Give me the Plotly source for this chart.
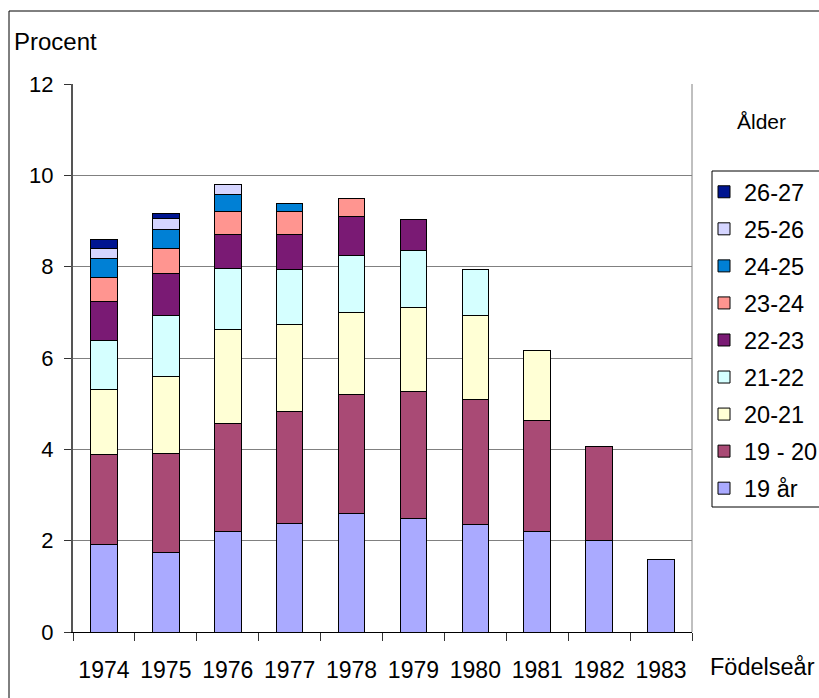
import plotly.graph_objects as go

years = ["1974", "1975", "1976", "1977", "1978", "1979", "1980", "1981", "1982", "1983"]

age_labels = ["19 år", "19 - 20", "20-21", "21-22", "22-23", "23-24", "24-25", "25-26", "26-27"]

s19     = [1.92, 1.745, 2.20, 2.38, 2.60, 2.49, 2.35, 2.20, 2.00, 1.58]
s19_20  = [1.96, 2.165, 2.37, 2.44, 2.60, 2.78, 2.75, 2.44, 2.07, None]
s20_21  = [1.43, 1.69, 2.06, 1.92, 1.79, 1.83, 1.83, 1.53, None, None]
s21_22  = [1.08, 1.33, 1.33, 1.19, 1.25, 1.25, 1.00, None, None, None]
s22_23  = [0.85, 0.92, 0.75, 0.78, 0.86, 0.68, None, None, None, None]
s23_24  = [0.53, 0.54, 0.49, 0.50, 0.40, None, None, None, None, None]
s24_25  = [0.40, 0.42, 0.37, 0.18, None, None, None, None, None, None]
s25_26  = [0.22, 0.25, 0.22, None, None, None, None, None, None, None]
s26_27  = [0.21, 0.11, None, None, None, None, None, None, None, None]

series = [s19, s19_20, s20_21, s21_22, s22_23, s23_24, s24_25, s25_26, s26_27]
colors = ["#AAAAFF", "#A94A75", "#FFFFD5", "#D5FFFF", "#7A1A74",
          "#FF9590", "#0080D5", "#D5D5FF", "#001590"]

FONT = "Liberation Sans, Arial, sans-serif"

# plot area in pixels
W, H = 819, 698
L, R, T, B = 73, 692, 84, 632
pw, ph = R - L, B - T

def px(x):
    return (x - L) / pw

def py(y):
    return (B - y) / ph

fig = go.Figure()
n = len(age_labels)
for i, (name, vals, col) in enumerate(zip(age_labels, series, colors)):
    fig.add_trace(go.Bar(
        x=years, y=vals, name=name, legendgroup=name, legendrank=100 + n - i,
        marker=dict(color=col, line=dict(color="#000000", width=1)),
    ))

fig.update_layout(
    width=W, height=H,
    barmode="stack", bargap=0.57,
    plot_bgcolor="white", paper_bgcolor="white",
    font=dict(family=FONT, size=22, color="black"),
    margin=dict(l=L, r=W - R, t=T, b=H - B, autoexpand=False),
    showlegend=True,
    legend=dict(
        x=px(704), y=py(170), xanchor="left", yanchor="top",
        traceorder="grouped", tracegroupgap=3.5,
        font=dict(size=23.5, family=FONT), borderwidth=0,
        bgcolor="rgba(0,0,0,0)",
    ),
    xaxis=dict(
        type="category", showgrid=False, showline=True, linecolor="black",
        linewidth=1, ticks="outside", tickson="boundaries", ticklen=8,
        tickcolor="#333333", tickfont=dict(size=23), ticklabelstandoff=17,
    ),
    yaxis=dict(
        range=[0, 12], dtick=2, showgrid=True, gridcolor="#808080", gridwidth=1,
        zeroline=False, showline=True, linecolor="#555555", linewidth=2,
        ticks="outside", ticklen=7, tickcolor="#333333",
        tickfont=dict(size=22), ticklabelstandoff=6,
    ),
)

# plot-area right border
fig.add_shape(type="line", xref="paper", yref="paper", x0=1, x1=1, y0=0, y1=1,
              line=dict(color="#808080", width=1))
# outer chart border
fig.add_shape(type="rect", xref="paper", yref="paper",
              x0=px(9), x1=px(830), y0=py(710), y1=py(11),
              line=dict(color="black", width=1), layer="below")
# legend frame
fig.add_shape(type="rect", xref="paper", yref="paper",
              x0=px(712), x1=px(830), y0=py(507), y1=py(171),
              line=dict(color="black", width=1))

fig.add_annotation(text="Procent", xref="paper", yref="paper", x=px(12), y=py(41),
                   xanchor="left", yanchor="middle", showarrow=False,
                   font=dict(size=24, family=FONT))
fig.add_annotation(text="Ålder", xref="paper", yref="paper", x=px(761), y=py(121),
                   xanchor="center", yanchor="middle", showarrow=False,
                   font=dict(size=21, family=FONT))
fig.add_annotation(text="Födelseår", xref="paper", yref="paper", x=px(708), y=py(667),
                   xanchor="left", yanchor="middle", showarrow=False,
                   font=dict(size=23.5, family=FONT))

fig.write_html("out.html", config={"displayModeBar": False},
               post_script="document.body.style.margin='0';document.body.style.overflow='hidden';")
